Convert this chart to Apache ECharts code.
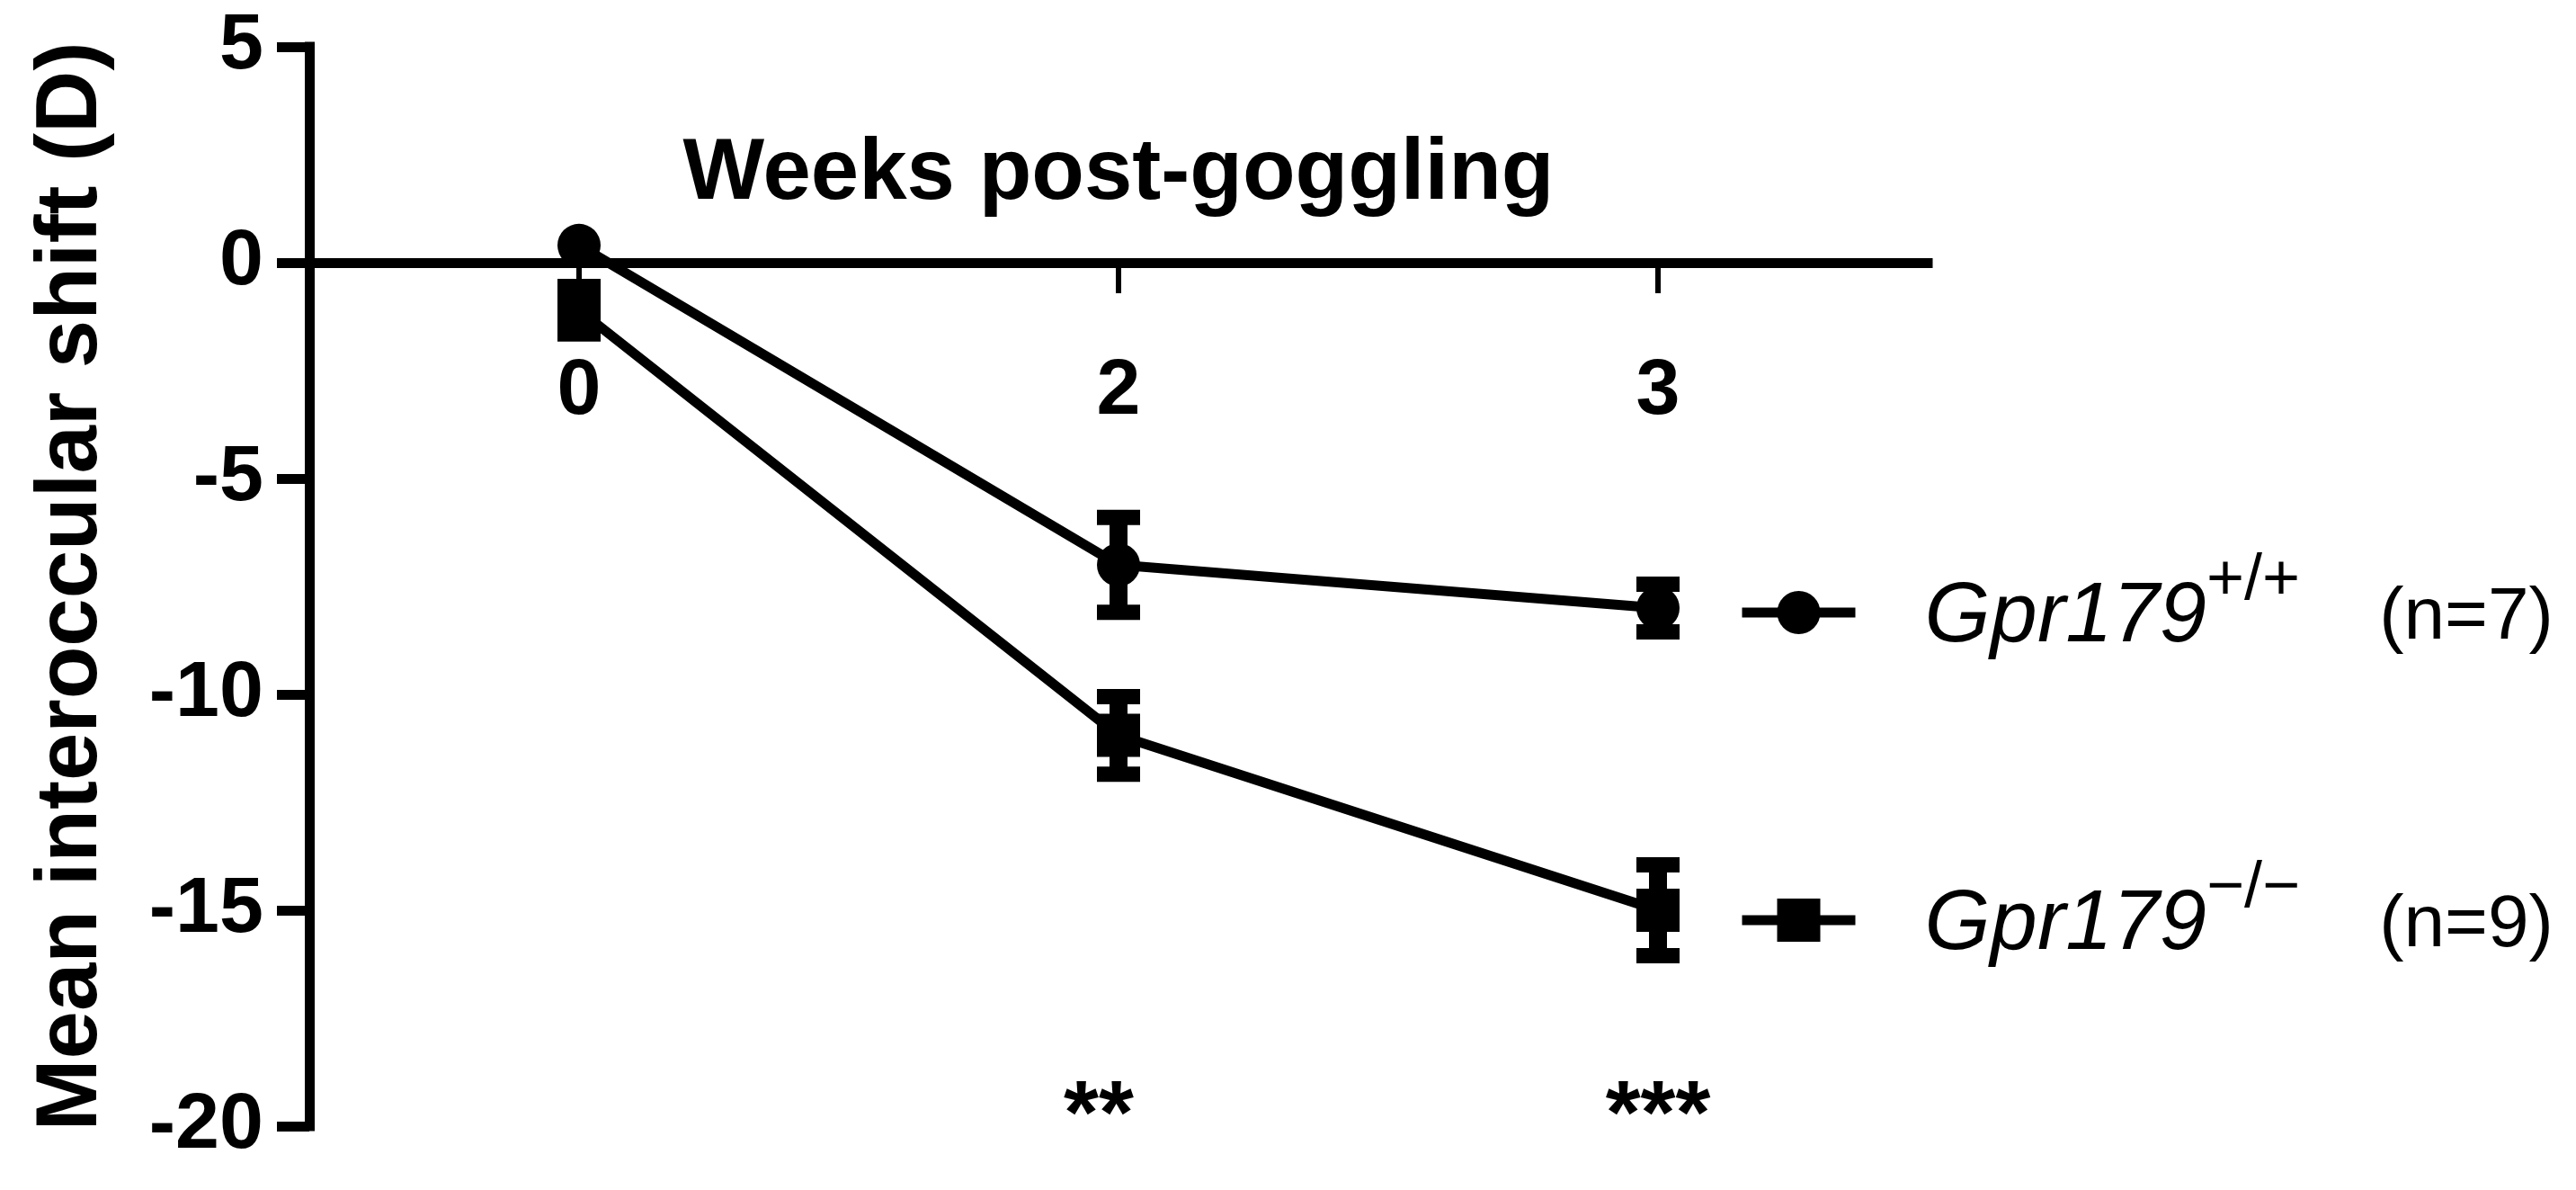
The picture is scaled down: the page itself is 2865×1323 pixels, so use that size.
<!DOCTYPE html>
<html><head><meta charset="utf-8">
<script src="https://cdn.jsdelivr.net/npm/echarts@6/dist/echarts.min.js"></script>
<style>html,body{margin:0;padding:0;background:#fff}#c{width:2865px;height:1323px}</style>
</head><body><div id="c"></div>
<script>
// ---- data ----
const weeks = ['0', '2', '3'];
const wtMean = [0.4, -7.0, -8.0];
const wtErr = [0, 1.1, 0.55];
const koMean = [-1.1, -10.95, -15.0];
const koErr = [0.55, 0.9, 1.05];
const sigMarks = ['', '**', '***'];
const sigLevel = -19.4;
const yMin = -20, yMax = 5, yStep = 5;
const seriesNames = ['WT', 'KO'];
const legendGene = ['Gpr179', 'Gpr179'];
const legendGeno = ['+/+', '\u2212/\u2212'];
const legendN = ['(n=7)', '(n=9)'];
const yTitle = 'Mean interoccular shift (D)';
const xTitle = 'Weeks post-goggling';

const FONT = '"Liberation Sans", Arial, sans-serif';
const GRID = { left: 344, right: 721, top: 52, bottom: 71 };
const plotH = 1323 - GRID.top - GRID.bottom;
const chart = echarts.init(document.getElementById('c'));

function errSeries(mean, err, name) {
  return {
    type: 'custom', name: name + '_err', z: 3, silent: true,
    data: weeks.map((w, i) => [i, mean[i] - err[i], mean[i] + err[i]]),
    renderItem(params, api) {
      const x = api.coord([api.value(0), 0])[0];
      const lo = api.coord([api.value(0), api.value(1)])[1];
      const hi = api.coord([api.value(0), api.value(2)])[1];
      if (Math.abs(lo - hi) < 1) return null;
      const capW = 48, capH = 17, stemW = 20;
      return { type: 'group', children: [
        { type: 'rect', shape: { x: x - stemW / 2, y: hi, width: stemW, height: lo - hi }, style: { fill: '#000' } },
        { type: 'rect', shape: { x: x - capW / 2, y: hi - capH / 2, width: capW, height: capH }, style: { fill: '#000' } },
        { type: 'rect', shape: { x: x - capW / 2, y: lo - capH / 2, width: capW, height: capH }, style: { fill: '#000' } }
      ]};
    }
  };
}

function lineSeries(name, mean, symbol) {
  return {
    type: 'line', name: name, data: mean, symbol: symbol, symbolSize: 48,
    lineStyle: { color: '#000', width: 11 }, itemStyle: { color: '#000' }, z: 4, silent: true
  };
}

const legendRich = {
  g: { fontStyle: 'italic', fontSize: 94, lineHeight: 92, padding: [12, 0, 0, 72], color: '#000', fontFamily: FONT },
  s: { fontSize: 72, lineHeight: 50, padding: [0, 0, 70, 0], color: '#000', fontFamily: FONT },
  n: { fontSize: 82, lineHeight: 92, padding: [12, 0, 0, 88], color: '#000', fontFamily: FONT }
};
const legendCenters = [670, 1012];

const option = {
  animation: false,
  backgroundColor: '#fff',
  textStyle: { fontFamily: FONT, color: '#000' },
  grid: Object.assign({ containLabel: false, outerBoundsMode: 'none' }, GRID),
  legend: [0, 1].map(i => ({
    data: [seriesNames[i]], orient: 'vertical', left: 1932, top: legendCenters[i] - 60, padding: 0,
    itemWidth: 126, itemHeight: 60, selectedMode: false,
    lineStyle: { width: 11, color: '#000' },
    itemStyle: { color: '#000' },
    formatter: () => `{g|${legendGene[i]}}{s|${legendGeno[i]}}{n|${legendN[i]}}`,
    textStyle: { rich: legendRich }
  })),
  xAxis: {
    type: 'category', data: weeks, boundaryGap: true,
    offset: -((0 - yMin) / (yMax - yMin)) * plotH,
    axisLine: { onZero: false, lineStyle: { color: '#000', width: 11, cap: 'square' } },
    axisTick: { show: true, alignWithLabel: true, length: 34, lineStyle: { color: '#000', width: 6 } },
    axisLabel: { margin: 100, color: '#000', fontSize: 88, fontWeight: 'bold', fontFamily: FONT }
  },
  yAxis: {
    type: 'value', min: yMin, max: yMax, interval: yStep,
    axisLine: { show: true, lineStyle: { color: '#000', width: 11, cap: 'square' } },
    axisTick: { show: true, length: 36, lineStyle: { color: '#000', width: 11 } },
    axisLabel: { margin: 51, fontSize: 88, fontWeight: 'bold', color: '#000', fontFamily: FONT },
    splitLine: { show: false },
    name: yTitle, nameLocation: 'middle', nameGap: 215, nameRotate: 90,
    nameTextStyle: { fontSize: 96, fontWeight: 'bold', color: '#000', fontFamily: FONT }
  },
  series: [
    errSeries(wtMean, wtErr, seriesNames[0]),
    errSeries(koMean, koErr, seriesNames[1]),
    lineSeries(seriesNames[0], wtMean, 'circle'),
    lineSeries(seriesNames[1], koMean, 'rect'),
    {
      type: 'scatter', silent: true, symbolSize: 1, itemStyle: { color: 'rgba(0,0,0,0)', opacity: 1 },
      data: weeks.map((w, i) => ({ value: [i, sigLevel, sigMarks[i]], label: { offset: [i === 1 ? -22 : 0, 20] } })).filter(d => d.value[2]),
      label: { show: true, position: 'inside', formatter: p => p.value[2], fontSize: 100, fontWeight: 'bold', color: '#000', textBorderWidth: 0, fontFamily: FONT }
    }
  ]
};
chart.setOption(option);

// x-axis title placed above the zero line, centred on the axis extent
const xa = chart.convertToPixel({ xAxisIndex: 0 }, weeks[0]);
const xb = chart.convertToPixel({ xAxisIndex: 0 }, weeks[weeks.length - 1]);
const yz = chart.convertToPixel({ yAxisIndex: 0 }, 0);
chart.setOption({
  graphic: [{
    type: 'text', x: (xa + xb) / 2, y: yz - 97, silent: true,
    style: { text: xTitle, fontSize: 96, fontWeight: 'bold', fontFamily: FONT, fill: '#000', align: 'center', verticalAlign: 'middle' }
  }]
});
</script>
</body></html>
